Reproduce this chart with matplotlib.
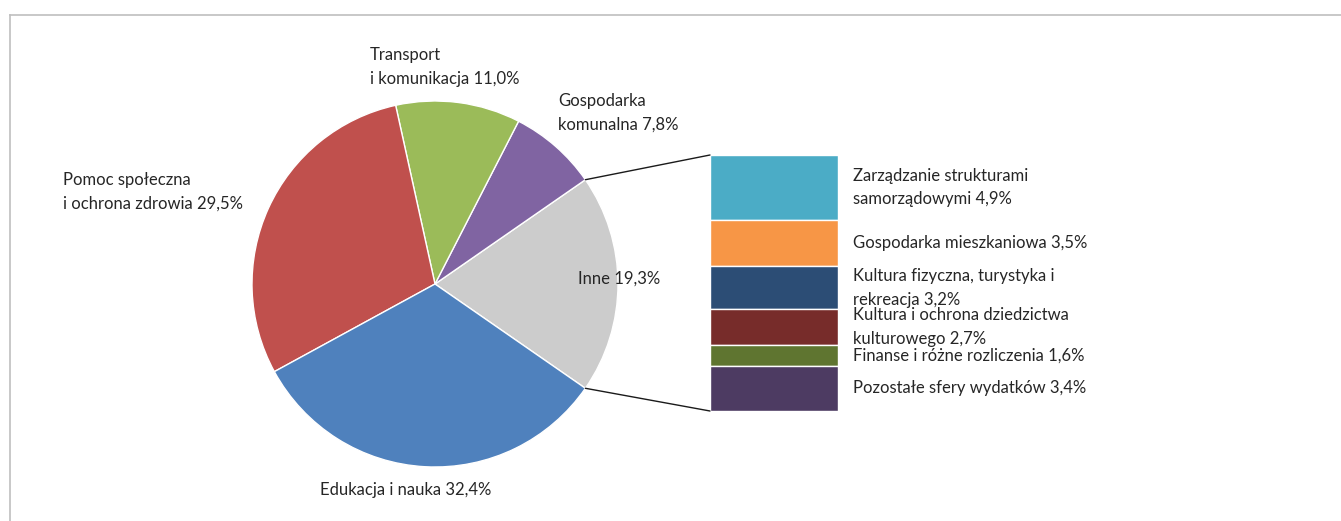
import matplotlib
matplotlib.use("Agg")
import matplotlib.pyplot as plt
from matplotlib.patches import ConnectionPatch
from matplotlib.lines import Line2D
import numpy as np

# Pie data (counter-clockwise from the "Inne" slice)
pie_labels = ["Inne", "Gospodarka\nkomunalna", "Transport\ni komunikacja",
              "Pomoc społeczna\ni ochrona zdrowia", "Edukacja i nauka"]
pie_values = [19.3, 7.8, 11.0, 29.5, 32.4]
pie_colors = ["#CCCCCC", "#8064A2", "#9BBB59", "#C0504D", "#4F81BD"]

# Breakdown of "Inne" (top to bottom)
bar_labels = ["Zarządzanie strukturami\nsamorządowymi", "Gospodarka mieszkaniowa",
              "Kultura fizyczna, turystyka i\nrekreacja", "Kultura i ochrona dziedzictwa\nkulturowego",
              "Finanse i różne rozliczenia", "Pozostałe sfery wydatków"]
bar_values = [4.9, 3.5, 3.2, 2.7, 1.6, 3.4]
bar_colors = ["#4BACC6", "#F79646", "#2C4D75", "#772C2A", "#5F7530", "#4D3B62"]

plt.rcParams['font.family'] = ['Lato', 'DejaVu Sans']
FS = 12
TC = "#262626"
LS = 1.6

W, H = 1341, 521
fig = plt.figure(figsize=(W / 100, H / 100), dpi=100)
fig.patch.set_facecolor("white")

# frame lines
fig.add_artist(Line2D([10 / W, 1], [1 - 15 / H, 1 - 15 / H], color="#BFBFBF", lw=1.2))
fig.add_artist(Line2D([10 / W, 10 / W], [0, 1 - 15 / H], color="#BFBFBF", lw=1.2))

# pie axes
cx, cy, r = 435, 284, 183
ax1 = fig.add_axes([(cx - r) / W, (H - cy - r) / H, 2 * r / W, 2 * r / H])
start = -pie_values[0] * 3.6 / 2
wedges, _ = ax1.pie(pie_values, colors=pie_colors, startangle=start, counterclock=True,
                    radius=1, wedgeprops=dict(edgecolor="white", linewidth=1))
ax1.set_xlim(-1, 1)
ax1.set_ylim(-1, 1)
ax1.axis("off")

def px2d(px, py):
    return (px - cx) / r, (cy - py) / r

label_pos = [(578, 279), (558, 113), (370, 67), (63, 192), (320, 490)]
for lab, val, (px, py) in zip(pie_labels, pie_values, label_pos):
    x, y = px2d(px, py)
    ax1.text(x, y, f"{lab} {val:.1f}%".replace(".", ","), ha="left", va="center",
             fontsize=FS, color=TC, linespacing=LS, clip_on=False)

# bar axes
bx0, bx1, by0, by1 = 710, 838, 155, 411
ax2 = fig.add_axes([bx0 / W, (H - by1) / H, (bx1 - bx0) / W, (by1 - by0) / H])
total = sum(bar_values)
bottom = total
for lab, val, col in zip(bar_labels, bar_values, bar_colors):
    bottom -= val
    ax2.bar(0.5, val, width=1, bottom=bottom, color=col, edgecolor="white", linewidth=1)
    ax2.text(1 + (853 - bx1) / (bx1 - bx0), bottom + val / 2, f"{lab} {val:.1f}%".replace(".", ","),
             ha="left", va="center", fontsize=FS, color=TC, linespacing=LS, clip_on=False)
ax2.set_xlim(0, 1)
ax2.set_ylim(0, total)
ax2.axis("off")

# connectors
th1 = np.deg2rad(wedges[0].theta1)
th2 = np.deg2rad(wedges[0].theta2)
for th, yb in [(th2, total), (th1, 0)]:
    con = ConnectionPatch(xyA=(0, yb), coordsA=ax2.transData,
                          xyB=(np.cos(th), np.sin(th)), coordsB=ax1.transData,
                          color="#1a1a1a", linewidth=1)
    fig.add_artist(con)

fig.savefig("out.png", dpi=100, facecolor="white")
